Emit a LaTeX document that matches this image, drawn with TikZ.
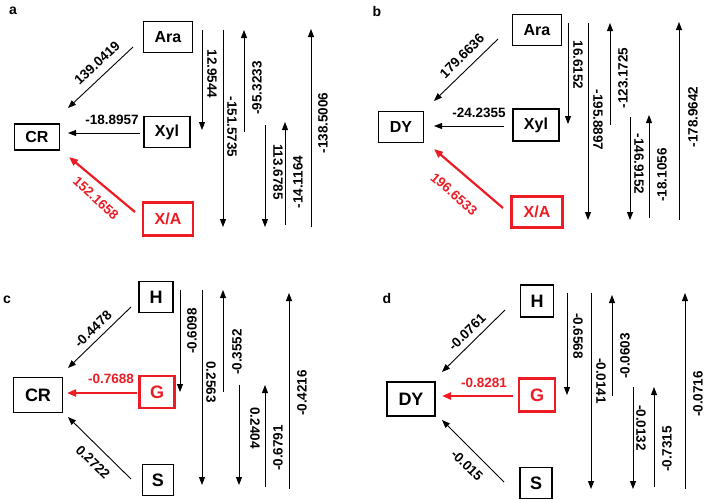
\documentclass[tikz,border=0pt]{standalone}
\usepackage{fontspec}
\setmainfont{Liberation Sans}
\usetikzlibrary{arrows.meta}
\definecolor{myred}{RGB}{237,28,36}
\tikzset{
  box/.style={draw, line width=1.1pt, font=\bfseries\fontsize{16}{16}\selectfont, inner sep=0pt},
  bigbox/.style={box, font=\bfseries\fontsize{18}{18}\selectfont},
  redbox/.style={draw=myred, text=myred, line width=2.4pt},
  lab/.style={font=\bfseries\fontsize{13.5}{13.5}\selectfont, inner sep=0pt},
  redlab/.style={lab, text=myred},
  panel/.style={font=\bfseries\fontsize{14}{14}\selectfont, inner sep=0pt},
  arr/.style={line width=0.9pt, -{Triangle[length=8pt,width=6pt]}},
  redarr/.style={line width=2.2pt, draw=myred, -{Triangle[length=9pt,width=7pt]}, fill=myred},
}
\begin{document}
\begin{tikzpicture}[x=1pt,y=-1pt]
\useasboundingbox (0,0) rectangle (709,499);
% ================= panel a =================
\node[panel] (la) at (13,11) {a};
\node[box, minimum width=49pt, minimum height=31pt] (aAra) at (168,37) {Ara};
\node[box, minimum width=45pt, minimum height=26pt] (aCR) at (37,137) {CR};
\node[box, minimum width=46pt, minimum height=31pt] (aXyl) at (167,132) {Xyl};
\node[box, redbox, minimum width=50pt, minimum height=33pt] (aXA) at (168,219) {X/A};
\coordinate (a1s) at (133,47); \coordinate (a1e) at (68,108);
\coordinate (a2s) at (140,133); \coordinate (a2e) at (68,133);
\coordinate (a3s) at (135,212); \coordinate (a3e) at (69,157);
\draw[arr] (a1s) -- (a1e);
\draw[arr] (a2s) -- (a2e);
\draw[redarr] (a3s) -- (a3e);
\node[lab, rotate=43] (al1) at (97,63) {139.0419};
\node[lab] (al2) at (112,120) {-18.8957};
\node[redlab, rotate=-43] (al3) at (96,198) {152.1658};
\coordinate (av1s) at (202,30);  \coordinate (av1e) at (202,130);
\coordinate (av2s) at (223,30);  \coordinate (av2e) at (223,227);
\coordinate (av3s) at (244,132); \coordinate (av3e) at (244,30);
\coordinate (av4s) at (265,125); \coordinate (av4e) at (265,227);
\coordinate (av5s) at (285,225); \coordinate (av5e) at (285,122);
\coordinate (av6s) at (311,227); \coordinate (av6e) at (311,29);
\draw[arr] (av1s) -- (av1e);
\draw[arr] (av2s) -- (av2e);
\draw[arr] (av3s) -- (av3e);
\draw[arr] (av4s) -- (av4e);
\draw[arr] (av5s) -- (av5e);
\draw[arr] (av6s) -- (av6e);
\node[lab, rotate=-90] (avl1) at (212,74) {12.9544};
\node[lab, rotate=-90] (avl2) at (232,127) {-151.5735};
\node[lab, rotate=90] (avl3) at (257,88) {-95.3233};
\node[lab, rotate=-90] (avl4) at (278,172) {113.6785};
\node[lab, rotate=90] (avl5) at (298,182) {-14.1164};
\node[lab, rotate=90] (avl6) at (323,123) {-138.5006};
% ================= panel b =================
\node[panel] (lb) at (377,11) {b};
\node[box, minimum width=49pt, minimum height=31pt] (bAra) at (537,30) {Ara};
\node[box, minimum width=45pt, minimum height=31pt] (bDY) at (401,127) {DY};
\node[box, minimum width=46pt, minimum height=32pt] (bXyl) at (536,125) {Xyl};
\node[box, redbox, minimum width=51pt, minimum height=31pt] (bXA) at (537,212) {X/A};
\coordinate (b1s) at (498,39); \coordinate (b1e) at (434,101);
\coordinate (b2s) at (504,126); \coordinate (b2e) at (434,126);
\coordinate (b3s) at (503,208); \coordinate (b3e) at (434,149);
\draw[arr] (b1s) -- (b1e);
\draw[arr] (b2s) -- (b2e);
\draw[redarr] (b3s) -- (b3e);
\node[lab, rotate=45] (bl1) at (462,56) {179.6636};
\node[lab] (bl2) at (479,113) {-24.2355};
\node[redlab, rotate=-41] (bl3) at (454,194) {196.6533};
\coordinate (bv1s) at (568,23);  \coordinate (bv1e) at (568,124);
\coordinate (bv2s) at (588,23);  \coordinate (bv2e) at (588,220);
\coordinate (bv3s) at (610,125); \coordinate (bv3e) at (610,23);
\coordinate (bv4s) at (630,117); \coordinate (bv4e) at (630,220);
\coordinate (bv5s) at (649,218); \coordinate (bv5e) at (649,115);
\coordinate (bv6s) at (679,220); \coordinate (bv6e) at (679,22);
\draw[arr] (bv1s) -- (bv1e);
\draw[arr] (bv2s) -- (bv2e);
\draw[arr] (bv3s) -- (bv3e);
\draw[arr] (bv4s) -- (bv4e);
\draw[arr] (bv5s) -- (bv5e);
\draw[arr] (bv6s) -- (bv6e);
\node[lab, rotate=-90] (bvl1) at (578,65) {16.6152};
\node[lab, rotate=-90] (bvl2) at (598,120) {-195.8897};
\node[lab, rotate=90] (bvl3) at (623,78) {-123.1725};
\node[lab, rotate=-90] (bvl4) at (639,164) {-146.9152};
\node[lab, rotate=90] (bvl5) at (662,175) {-18.1056};
\node[lab, rotate=90] (bvl6) at (693,117) {-178.9642};
% ================= panel c =================
\node[panel] (lc) at (7,300) {c};
\node[bigbox, minimum width=34pt, minimum height=31pt] (cH) at (156,297) {H};
\node[bigbox, minimum width=49pt, minimum height=35pt] (cCR) at (38,395) {CR};
\node[bigbox, redbox, minimum width=35pt, minimum height=32pt] (cG) at (157,392) {G};
\node[bigbox, minimum width=31pt, minimum height=31pt] (cS) at (158,480) {S};
\coordinate (c1s) at (131,307); \coordinate (c1e) at (68,368);
\coordinate (c2s) at (137,393); \coordinate (c2e) at (67,393);
\coordinate (c3s) at (131,479); \coordinate (c3e) at (68,417);
\draw[arr] (c1s) -- (c1e);
\draw[redarr] (c2s) -- (c2e);
\draw[arr] (c3s) -- (c3e);
\node[lab, rotate=44] (cl1) at (93,329) {-0.4478};
\node[redlab] (cl2) at (111,379) {-0.7688};
\node[lab, rotate=-44] (cl3) at (93,462) {0.2722};
\coordinate (cv1s) at (180,290); \coordinate (cv1e) at (180,392);
\coordinate (cv2s) at (202,290); \coordinate (cv2e) at (202,485);
\coordinate (cv3s) at (223,392); \coordinate (cv3e) at (223,290);
\coordinate (cv4s) at (239,385); \coordinate (cv4e) at (239,485);
\coordinate (cv5s) at (265,487); \coordinate (cv5e) at (265,385);
\coordinate (cv6s) at (289,489); \coordinate (cv6e) at (289,293);
\draw[arr] (cv1s) -- (cv1e);
\draw[arr] (cv2s) -- (cv2e);
\draw[arr] (cv3s) -- (cv3e);
\draw[arr] (cv4s) -- (cv4e);
\draw[arr] (cv5s) -- (cv5e);
\draw[arr] (cv6s) -- (cv6e);
\node[lab, rotate=90] (cvl1) at (192,331) {-0.6098};
\node[lab, rotate=-90] (cvl2) at (211,382) {0.2563};
\node[lab, rotate=90] (cvl3) at (237,352) {-0.3552};
\node[lab, rotate=-90] (cvl4) at (255,428) {0.2404};
\node[lab, rotate=90] (cvl5) at (278,448) {-0.6791};
\node[lab, rotate=90] (cvl6) at (302,393) {-0.4216};
% ================= panel d =================
\node[panel] (ld) at (387,298) {d};
\node[bigbox, minimum width=33pt, minimum height=32pt] (dH) at (537,301) {H};
\node[bigbox, minimum width=48pt, minimum height=34pt] (dDY) at (411,399) {DY};
\node[bigbox, redbox, minimum width=36pt, minimum height=33pt] (dG) at (537,395) {G};
\node[bigbox, minimum width=32pt, minimum height=31pt] (dS) at (536,483) {S};
\coordinate (d1s) at (505,310); \coordinate (d1e) at (442,372);
\coordinate (d2s) at (513,396); \coordinate (d2e) at (442,396);
\coordinate (d3s) at (504,482); \coordinate (d3e) at (442,420);
\draw[arr] (d1s) -- (d1e);
\draw[redarr] (d2s) -- (d2e);
\draw[arr] (d3s) -- (d3e);
\node[lab, rotate=44] (dl1) at (467,332) {-0.0761};
\node[redlab] (dl2) at (484,383) {-0.8281};
\node[lab, rotate=-44] (dl3) at (467,465) {-0.015};
\coordinate (dv1s) at (567,293); \coordinate (dv1e) at (567,395);
\coordinate (dv2s) at (591,293); \coordinate (dv2e) at (591,489);
\coordinate (dv3s) at (612,396); \coordinate (dv3e) at (612,295);
\coordinate (dv4s) at (633,387); \coordinate (dv4e) at (633,489);
\coordinate (dv5s) at (654,487); \coordinate (dv5e) at (654,387);
\coordinate (dv6s) at (685,489); \coordinate (dv6e) at (685,293);
\draw[arr] (dv1s) -- (dv1e);
\draw[arr] (dv2s) -- (dv2e);
\draw[arr] (dv3s) -- (dv3e);
\draw[arr] (dv4s) -- (dv4e);
\draw[arr] (dv5s) -- (dv5e);
\draw[arr] (dv6s) -- (dv6e);
\node[lab, rotate=-90] (dvl1) at (578,336) {-0.6568};
\node[lab, rotate=-90] (dvl2) at (601,381) {-0.0141};
\node[lab, rotate=90] (dvl3) at (625,356) {-0.0603};
\node[lab, rotate=-90] (dvl4) at (641,428) {-0.0132};
\node[lab, rotate=90] (dvl5) at (667,449) {-0.7315};
\node[lab, rotate=90] (dvl6) at (698,394) {-0.0716};
\end{tikzpicture}
\end{document}
